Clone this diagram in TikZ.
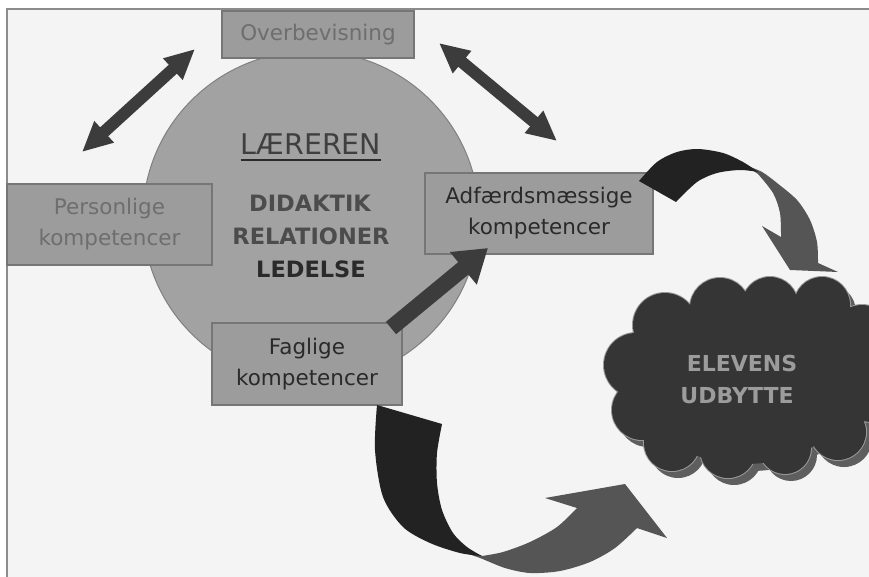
\documentclass[tikz,border=0pt]{standalone}
\usepackage{fontspec}
\setmainfont{DejaVu Sans}
\usetikzlibrary{arrows.meta}
\definecolor{bg}{HTML}{F3F4F3}
\definecolor{frameline}{HTML}{8C8C8C}
\definecolor{circfill}{HTML}{A2A2A2}
\definecolor{circline}{HTML}{808080}
\definecolor{boxfill}{HTML}{9C9C9C}
\definecolor{boxline}{HTML}{767676}
\definecolor{softtext}{HTML}{6E6E6E}
\definecolor{darktext}{HTML}{2A2A2A}
\definecolor{midtext}{HTML}{4C4C4C}
\definecolor{arrowdark}{HTML}{3C3C3C}
\definecolor{ribbonblack}{HTML}{222222}
\definecolor{ribbongray}{HTML}{555555}
\definecolor{cloudfill}{HTML}{353535}
\definecolor{cloudshadow}{HTML}{5E5E5E}
\definecolor{cloudline}{HTML}{9A9A9A}
\definecolor{cloudtext}{HTML}{9C9C9C}
\begin{document}
\begin{tikzpicture}[x=1pt,y=-1pt,
  box/.style={draw=boxline, line width=1.2pt, fill=boxfill, inner sep=0pt, align=center,
    font=\fontsize{21.5}{31}\selectfont},
  dbl/.style={arrowdark, line width=12pt,
    {Triangle[width=27pt,length=30pt]}-{Triangle[width=27pt,length=30pt]}},
  single/.style={arrowdark, line width=16pt, -{Triangle[width=40pt,length=32pt]}},
  ctext/.style={anchor=base, inner sep=0pt, font=\fontsize{22.5}{28}\selectfont\bfseries},
  cloudtxt/.style={anchor=base, inner sep=0pt, text=cloudtext, font=\fontsize{22}{28}\selectfont\bfseries}
]
\useasboundingbox (0,0) rectangle (869,577);
% background and frame
\fill[white] (0,0) rectangle (869,577);
\fill[bg] (7,9) rectangle (869,577);
\draw[frameline, line width=2pt] (7,577) -- (7,9) -- (869,9);

% central circle
\draw[draw=circline, fill=circfill, line width=1pt] (311,217) ellipse [x radius=168pt, y radius=166pt];

% circle texts
\node[anchor=base, inner sep=0pt, text=darktext!90!white, font=\fontsize{28.5}{30}\selectfont] (laer) at (311,155) {LÆREREN};
\draw[darktext, line width=2pt] ([yshift=-5pt]laer.base west) -- ([yshift=-5pt]laer.base east);
\node[ctext, text=midtext] (did) at (310,212) {DIDAKTIK};
\node[ctext, text=midtext] (rel) at (311,244) {RELATIONER};
\node[ctext, text=darktext] (led) at (311,277) {LEDELSE};

% double arrows
\coordinate (la1) at (82,152);
\coordinate (la2) at (195,49);
\coordinate (ra1) at (439,43);
\coordinate (ra2) at (557,141);
\draw[dbl] (la1) -- (la2);
\draw[dbl] (ra1) -- (ra2);

% boxes
\node[box, minimum width=192pt, minimum height=47pt, text=softtext] (overb) at (318,34.5) {Overbevisning};
\node[box, minimum width=205pt, minimum height=81pt, text=softtext] (pers) at (109.5,224.5) {Personlige\\kompetencer};
\node[box, minimum width=228pt, minimum height=81pt, text=darktext] (adf) at (539,213.5) {Adfærdsmæssige\\kompetencer};
\node[box, minimum width=190pt, minimum height=82pt, text=darktext] (fag) at (307,364) {Faglige\\kompetencer};

% straight arrow Faglige -> Adfaerdsmaessige
\coordinate (sa1) at (391,328);
\coordinate (sa2) at (488,248);
\draw[single] (sa1) -- (sa2);

% cloud shadow
\begin{scope}[shift={(6,7)}]
\fill[cloudshadow] (745,380) ellipse [x radius=112pt, y radius=84pt]
  \foreach \cx/\cy/\r in {665/325/32, 720/308/30, 770/305/28, 822/305/28, 862/335/30, 636/365/32, 642/410/30, 672/443/28, 728/450/28, 785/448/26, 838/432/28, 872/390/32, 835/360/34} {(\cx,\cy) circle[radius=\r pt]};
\end{scope}
% cloud outline then fill
\filldraw[draw=cloudline, fill=cloudfill, line width=2pt]
  \foreach \cx/\cy/\r in {665/325/32, 720/308/30, 770/305/28, 822/305/28, 862/335/30, 636/365/32, 642/410/30, 672/443/28, 728/450/28, 785/448/26, 838/432/28, 872/390/32} {(\cx,\cy) circle[radius=\r pt]};
\fill[cloudfill] (745,380) ellipse [x radius=112pt, y radius=84pt]
  \foreach \cx/\cy/\r in {665/325/32, 720/308/30, 770/305/28, 822/305/28, 862/335/30, 636/365/32, 642/410/30, 672/443/28, 728/450/28, 785/448/26, 838/432/28, 872/390/32, 835/360/34} {(\cx,\cy) circle[radius=\r pt]};
\node[cloudtxt] (elev) at (742,371) {ELEVENS};
\node[cloudtxt] (udb) at (737,403) {UDBYTTE};

% curved ribbon arrow, top right
\fill[ribbongray] plot[smooth] coordinates {(745,165) (762,172) (777,183) (797,200) (810,220) (817,242) (818,263)}
  -- (838,272) -- (790,270) -- (762,226) -- (781,237)
  -- plot[smooth] coordinates {(781,237) (780,213) (773,193) (758,174)} -- cycle;
\fill[ribbonblack] plot[smooth] coordinates {(639,181) (657,162) (677,152) (698,149) (723,153) (743,162) (758,172)}
  -- plot[smooth] coordinates {(758,172) (740,170) (717,173) (697,182) (676,202)} -- cycle;

% curved ribbon arrow, bottom
\fill[ribbongray] plot[smooth] coordinates {(457,550) (480,558) (505,568) (530,573) (560,571) (590,562) (615,548) (637,528)}
  -- (667,538) -- (625,484) -- (545,498) -- (577,508)
  -- plot[smooth] coordinates {(577,508) (557,527) (530,542) (503,552) (482,556)} -- cycle;
\fill[ribbonblack] plot[smooth] coordinates {(377,405) (375,450) (383,497) (403,527) (430,543) (460,553) (482,556)}
  -- plot[smooth] coordinates {(482,556) (467,547) (453,533) (442,510) (437,483) (437,453) (442,424)} -- cycle;
\end{tikzpicture}
\end{document}
